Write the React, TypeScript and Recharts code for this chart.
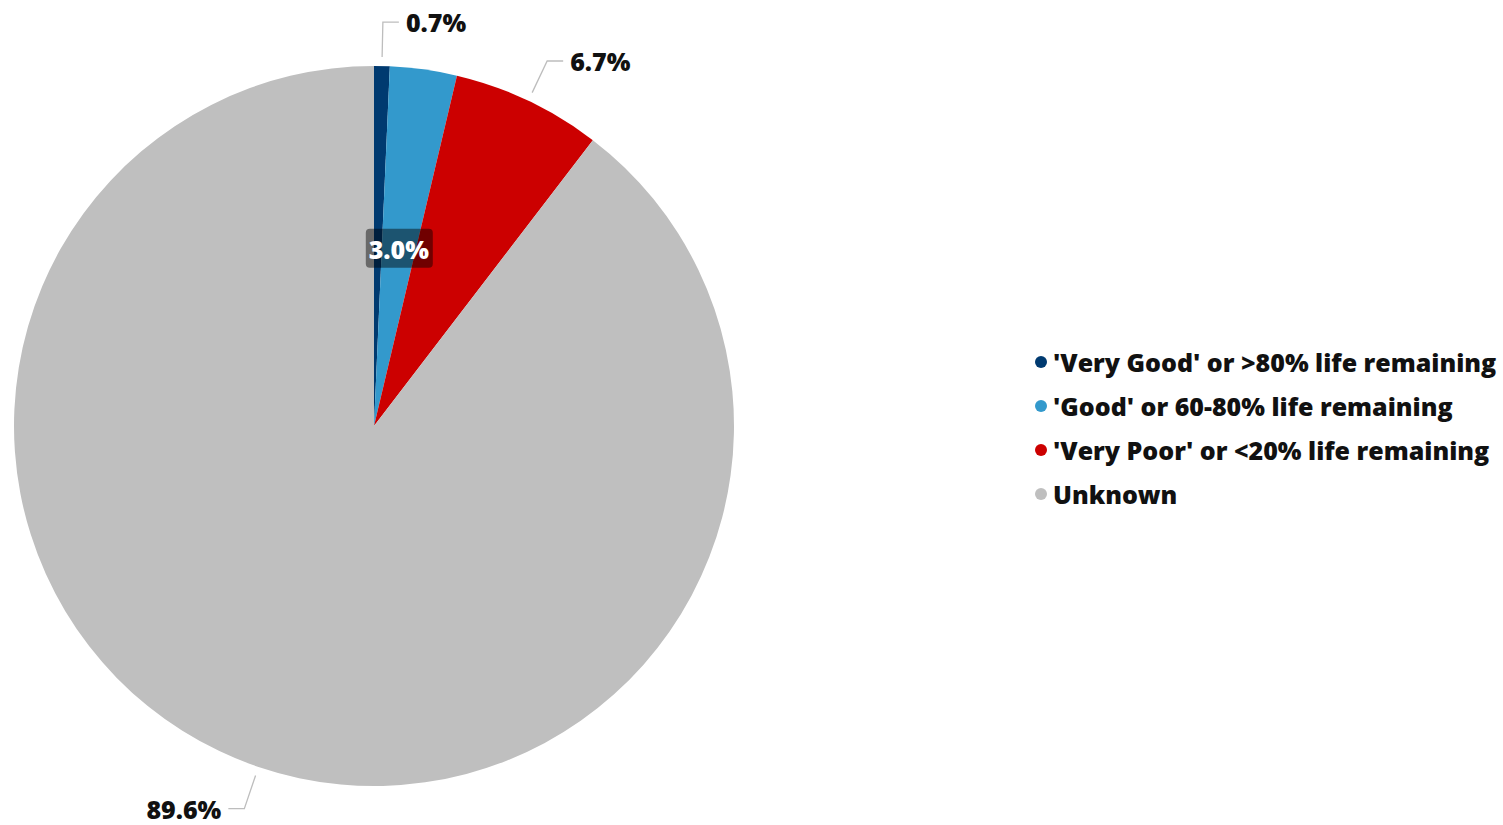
import React from "react";
import { PieChart, Pie, Cell, Legend } from "recharts";

// condition categories and their share of assets (%)
const categories = [
  "'Very Good' or >80% life remaining",
  "'Good' or 60-80% life remaining",
  "'Very Poor' or <20% life remaining",
  "Unknown",
];
const shares = [0.7, 3.0, 6.7, 89.6];

const COLORS = ["#003a70", "#3399cc", "#cc0000", "#bfbfbf"];
const FONT = "'Open Sans', 'Noto Sans', sans-serif";
const RAD = Math.PI / 180;

const data = categories.map((name, i) => ({ name, value: shares[i] }));

const renderLabel = (props: any) => {
  const { cx, cy, midAngle, outerRadius, value, index } = props;
  const cos = Math.cos(-midAngle * RAD);
  const sin = Math.sin(-midAngle * RAD);
  const text = `${value.toFixed(1)}%`;

  // the small blue slice gets its label inside, on a dark box
  if (index === 1) {
    const x = cx + outerRadius * 0.5 * cos;
    const y = cy + outerRadius * 0.5 * sin;
    return (
      <g>
        <rect x={x - 33} y={y - 19} width={67} height={39} rx={4} fill="#000" fillOpacity={0.45} />
        <text x={x} y={y + 1} fill="#fff" fontSize={25} fontWeight={800} fontFamily={FONT}
          textAnchor="middle" dominantBaseline="central">
          {text}
        </text>
      </g>
    );
  }

  const sx = cx + (outerRadius + 9) * cos;
  const sy = cy + (outerRadius + 9) * sin;
  const mx = cx + (outerRadius + 44) * cos;
  const my = cy + (outerRadius + 44) * sin;
  const dir = cos >= 0 ? 1 : -1;
  const ex = mx + dir * 16;
  return (
    <g>
      <polyline points={`${sx},${sy} ${mx},${my} ${ex},${my}`} fill="none" stroke="#bdbdbd" strokeWidth={1.3} />
      <text x={ex + dir * 7} y={my} fill="#111" fontSize={25} fontWeight={800} fontFamily={FONT}
        textAnchor={dir > 0 ? "start" : "end"} dominantBaseline="central">
        {text}
      </text>
    </g>
  );
};

const renderLegend = () => (
  <div style={{ fontFamily: FONT }}>
    {categories.map((name, i) => (
      <div key={name} style={{ display: "flex", alignItems: "center", height: 44 }}>
        <span style={{ width: 12, height: 12, borderRadius: 6, background: COLORS[i], marginRight: 6, flexShrink: 0 }} />
        <span style={{ fontSize: 25, fontWeight: 800, color: "#111", whiteSpace: "nowrap" }}>{name}</span>
      </div>
    ))}
  </div>
);

export default function App() {
  return (
    <div style={{ position: "absolute", left: 0, top: 0, background: "#fff" }}>
      <PieChart width={1503} height={825} margin={{ top: 0, right: 0, bottom: 0, left: 0 }}>
        <Pie
          data={data}
          dataKey="value"
          nameKey="name"
          cx={374}
          cy={426}
          outerRadius={360}
          startAngle={90}
          endAngle={-270}
          stroke="none"
          label={renderLabel}
          labelLine={false}
          isAnimationActive={false}
        >
          {data.map((d, i) => (
            <Cell key={d.name} fill={COLORS[i]} />
          ))}
        </Pie>
        <Legend
          content={renderLegend}
          wrapperStyle={{ position: "absolute", left: 1035, top: 340, width: 468 }}
        />
      </PieChart>
    </div>
  );
}
